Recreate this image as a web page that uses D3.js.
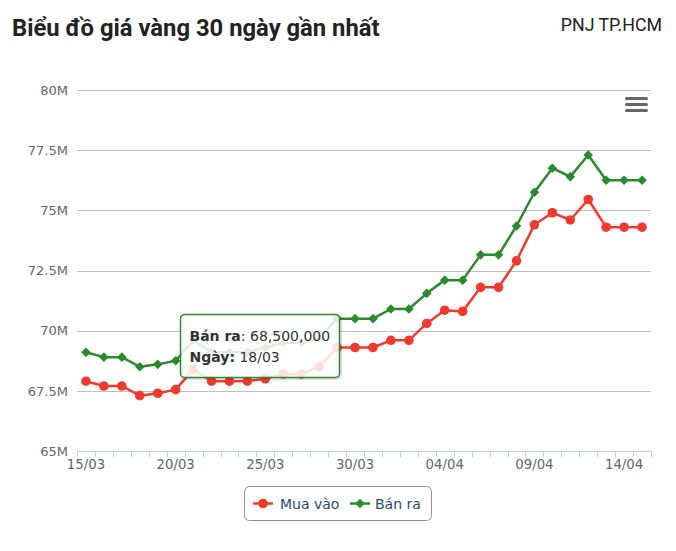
<!DOCTYPE html>
<html>
<head>
<meta charset="utf-8">
<script src="https://cdn.jsdelivr.net/npm/d3@7"></script>
<style>
  html, body { margin: 0; padding: 0; background: #fff; }
  svg { display: block; }
</style>
</head>
<body>
<svg id="chart" width="676" height="551"></svg>
<script>
// ---- data ----
const dates = ["15/03","16/03","17/03","18/03","19/03","20/03","21/03","22/03","23/03","24/03","25/03","26/03","27/03","28/03","29/03","30/03","31/03",
               "01/04","02/04","03/04","04/04","05/04","06/04","07/04","08/04","09/04","10/04","11/04","12/04","13/04","14/04","15/04"];
const muaVao = [67.9, 67.7, 67.7, 67.3, 67.4, 67.55, 68.4, 67.9, 67.9, 67.9, 68.0, 68.2, 68.2, 68.5, 69.3, 69.3, 69.3,
                69.6, 69.6, 70.3, 70.85, 70.8, 71.8, 71.8, 72.9, 74.4, 74.9, 74.6, 75.45, 74.3, 74.3, 74.3];
const banRa = [69.1, 68.9, 68.9, 68.5, 68.6, 68.75, 69.6, 69.1, 69.1, 69.1, 69.3, 69.5, 69.5, 69.7, 70.5, 70.5, 70.5,
               70.9, 70.9, 71.55, 72.1, 72.1, 73.15, 73.15, 74.35, 75.75, 76.75, 76.4, 77.3, 76.25, 76.25, 76.25];
const yTicks = [65, 67.5, 70, 72.5, 75, 77.5, 80];
const yTickLabels = ["65M", "67.5M", "70M", "72.5M", "75M", "77.5M", "80M"];
const xLabelEvery = 5;
const seriesNames = ["Mua vào", "Bán ra"];
const tooltipSeries = "Bán ra";
const tooltipIndex = 3;

// ---- styles ----
const RED = "#ef3a2d", GREEN = "#2b8a2b";
const FONT = "'DejaVu Sans', sans-serif";

const svg = d3.select("#chart");
const L = 77, R = 651, T = 90, B = 451;

const x = d3.scaleBand().domain(dates).range([L, R]).padding(0);
const y = d3.scaleLinear().domain([65, 80]).range([B, T]);

// title
svg.append("text").attr("x", 12).attr("y", 36)
  .attr("font-family", "Roboto, sans-serif").attr("font-weight", "bold")
  .attr("font-size", 23.8).attr("fill", "#222")
  .text("Biểu đồ giá vàng 30 ngày gần nhất");
svg.append("text").attr("x", 662).attr("y", 31).attr("text-anchor", "end")
  .attr("font-family", "Roboto, sans-serif").attr("font-size", 17.8).attr("fill", "#222")
  .text("PNJ TP.HCM");

// gridlines + y labels
const yAxis = d3.axisLeft(y).tickValues(yTicks)
  .tickFormat((d, i) => yTickLabels[i]).tickSize(-(R - L)).tickPadding(9);
const gy = svg.append("g").attr("transform", `translate(${L},0)`).call(yAxis);
gy.select(".domain").remove();
gy.selectAll(".tick line").attr("stroke", "#c0c0c0").attr("shape-rendering", "crispEdges");
gy.selectAll(".tick text").attr("font-family", FONT).attr("font-size", 13).attr("fill", "#666");

// x axis
const xAxis = d3.axisBottom(x).tickSize(0).tickPadding(0)
  .tickFormat((d, i) => (i % xLabelEvery === 0 ? d : ""));
const gx = svg.append("g").attr("transform", `translate(0,${B})`).call(xAxis);
gx.select(".domain").remove();
gx.selectAll(".tick line").remove();
gx.selectAll(".tick text").attr("font-family", FONT).attr("font-size", 13.3).attr("fill", "#666")
  .attr("dy", 0).attr("y", 18);
// axis line and boundary ticks
gx.append("line").attr("x1", L).attr("x2", R + 0.5).attr("y1", 0.5).attr("y2", 0.5)
  .attr("stroke", "#c0d0e0").attr("shape-rendering", "crispEdges");
const bounds = dates.map(d => x(d)).concat([x(dates[dates.length - 1]) + x.bandwidth()]);
gx.selectAll(".btick").data(bounds).join("line").attr("class", "btick")
  .attr("x1", d => Math.round(d) + 0.5).attr("x2", d => Math.round(d) + 0.5)
  .attr("y1", 0).attr("y2", 6).attr("stroke", "#c0d0e0").attr("shape-rendering", "crispEdges");

const cx = d => x(d) + x.bandwidth() / 2;
const line = d3.line().x((d, i) => cx(dates[i])).y(d => y(d));

// series
const seriesG = svg.append("g");
seriesG.append("path").datum(muaVao).attr("d", line).attr("fill", "none")
  .attr("stroke", RED).attr("stroke-width", 2.5).attr("stroke-linejoin", "round");
seriesG.selectAll(".mv").data(muaVao).join("circle").attr("class", "mv")
  .attr("cx", (d, i) => cx(dates[i])).attr("cy", d => y(d)).attr("r", 4.8).attr("fill", RED);

seriesG.append("path").datum(banRa).attr("d", line).attr("fill", "none")
  .attr("stroke", GREEN).attr("stroke-width", 2.5).attr("stroke-linejoin", "round");
const dia = s => `M0,${-s}L${s},0L0,${s}L${-s},0Z`;
seriesG.selectAll(".br").data(banRa).join("path").attr("class", "br")
  .attr("transform", (d, i) => `translate(${cx(dates[i])},${y(d)})`)
  .attr("d", dia(4.8)).attr("fill", GREEN);

// context menu icon
const menu = svg.append("g").attr("transform", "translate(626.5,0)");
[98.5, 104.5, 110.5].forEach(v => menu.append("line").attr("x1", 0).attr("x2", 20)
  .attr("y1", v).attr("y2", v).attr("stroke", "#666").attr("stroke-width", 3).attr("stroke-linecap", "round"));

// legend
const lg = svg.append("g");
lg.append("rect").attr("x", 244.5).attr("y", 486.5).attr("width", 187).attr("height", 34)
  .attr("rx", 5).attr("fill", "#fff").attr("stroke", "#909090");
const legendItems = [
  { name: seriesNames[0], color: RED, sym: "circle", x0: 253, tx: 280 },
  { name: seriesNames[1], color: GREEN, sym: "diamond", x0: 350, tx: 375 }
];
legendItems.forEach(it => {
  lg.append("line").attr("x1", it.x0).attr("x2", it.x0 + 20).attr("y1", 503.5).attr("y2", 503.5)
    .attr("stroke", it.color).attr("stroke-width", 2.5);
  if (it.sym === "circle") lg.append("circle").attr("cx", it.x0 + 10).attr("cy", 503.5).attr("r", 4.8).attr("fill", it.color);
  else lg.append("path").attr("transform", `translate(${it.x0 + 10},503.5)`).attr("d", dia(4.8)).attr("fill", it.color);
  lg.append("text").attr("x", it.tx).attr("y", 508.5).attr("font-family", FONT).attr("font-size", 14)
    .attr("fill", "#274b6d").text(it.name);
});

// tooltip
const tt = svg.append("g").attr("transform", "translate(180.5,314.5)");
tt.append("rect").attr("x", 1).attr("y", 1).attr("width", 159).attr("height", 63).attr("rx", 4)
  .attr("fill", "none").attr("stroke", "rgba(0,0,0,0.12)").attr("stroke-width", 3);
tt.append("rect").attr("width", 159).attr("height", 63).attr("rx", 4)
  .attr("fill", "rgba(255,255,255,0.85)").attr("stroke", GREEN).attr("stroke-width", 1.5);
const t1 = tt.append("text").attr("x", 9).attr("y", 26).attr("font-family", FONT).attr("font-size", 14).attr("fill", "#333");
t1.append("tspan").attr("font-weight", "bold").text(tooltipSeries);
t1.append("tspan").text(": " + d3.format(",")(Math.round(banRa[tooltipIndex] * 1e6)));
const t2 = tt.append("text").attr("x", 9).attr("y", 47).attr("font-family", FONT).attr("font-size", 14).attr("fill", "#333");
t2.append("tspan").attr("font-weight", "bold").text("Ngày:");
t2.append("tspan").text(" " + dates[tooltipIndex]);
</script>
</body>
</html>
